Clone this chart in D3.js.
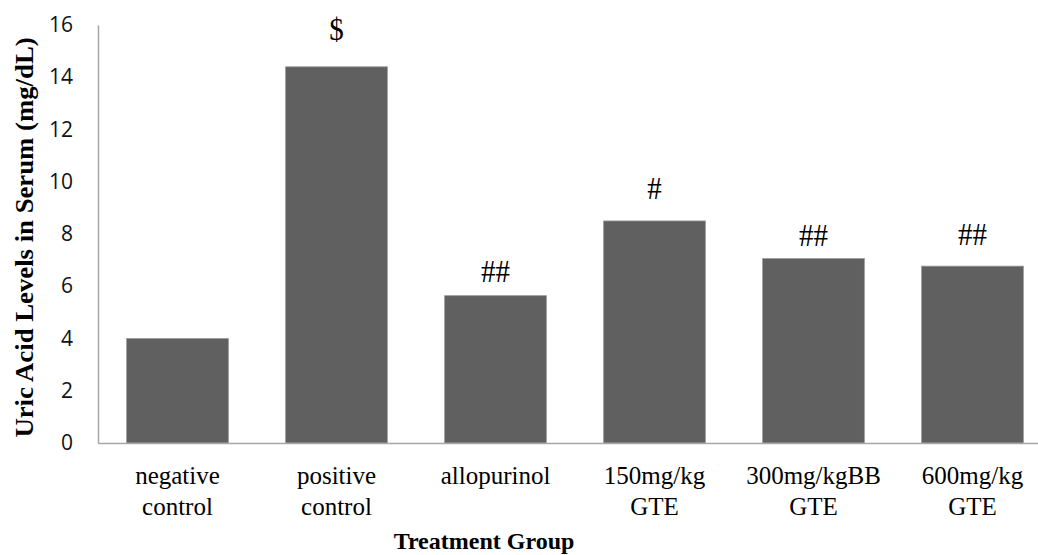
<!DOCTYPE html>
<html><head><meta charset="utf-8">
<script src="https://cdn.jsdelivr.net/npm/d3@7/dist/d3.min.js"></script>
<style>body{margin:0;background:#fff;} svg{display:block;}</style>
</head><body>
<svg id="chart" width="1038" height="555"></svg>
<script>
const categories = [["negative","control"],["positive","control"],["allopurinol"],["150mg/kg","GTE"],["300mg/kgBB","GTE"],["600mg/kg","GTE"]];
const values = [4.0, 14.4, 5.64, 8.5, 7.06, 6.77];
const marks = ["", "$", "##", "#", "##", "##"];
const markLevels = [null, 15.85, 6.58, 9.76, 7.96, 8.0];
const yTicks = [0,2,4,6,8,10,12,14,16];
const yTitle = "Uric Acid Levels in Serum (mg/dL)";
const xTitle = "Treatment Group";

const SERIF = "'Liberation Serif', 'Times New Roman', serif";
const svg = d3.select("#chart");
const x0 = 98, x1 = 1052, yTop = 25, yBot = 443;
const keys = categories.map((c,i)=>i);
const x = d3.scaleBand().domain(keys).range([x0,x1]).paddingInner(0.36).paddingOuter(0.18);
const y = d3.scaleLinear().domain([0,16]).range([yBot,yTop]);

// bars
svg.selectAll("rect.bar").data(values).join("rect")
  .attr("class","bar")
  .attr("x",(d,i)=>x(i)).attr("width",x.bandwidth())
  .attr("y",d=>y(d)).attr("height",d=>y(0)-y(d))
  .attr("fill","#606060").attr("stroke","#9a9a9a").attr("stroke-width",0.8);

// y axis
const ya = d3.axisLeft(y).tickValues(yTicks).tickSize(0).tickPadding(25);
const gy = svg.append("g").attr("transform",`translate(${x0},0)`).call(ya);
gy.select(".domain").attr("stroke","#a6a6a6").attr("stroke-width",1.5);
gy.selectAll("text").attr("font-family","'Open Sans', sans-serif").attr("font-size",21).attr("fill","#111");

// x axis
const xa = d3.axisBottom(x).tickSize(0).tickFormat(()=> "");
const gx = svg.append("g").attr("transform",`translate(0,${yBot})`).call(xa);
gx.select(".domain").attr("stroke","#a6a6a6").attr("stroke-width",1.5);

// category labels
categories.forEach((lines,i)=>{
  const cx = x(i)+x.bandwidth()/2;
  lines.forEach((l,j)=>{
    svg.append("text")
      .attr("x", cx).attr("y", 483.5 + j*31)
      .attr("text-anchor","middle")
      .attr("font-family",SERIF)
      .attr("font-size",25).attr("fill","#000")
      .text(l);
  });
});

// significance marks
svg.selectAll("text.mark").data(marks).join("text")
  .attr("class","mark")
  .attr("transform",(d,i)=>`translate(${x(i)+x.bandwidth()/2},${markLevels[i]==null ? 0 : y(markLevels[i]) + 11}) scale(1,1.1)`)
  .attr("text-anchor","middle")
  .attr("font-family",SERIF)
  .attr("font-size",29).attr("fill","#000")
  .text(d=>d);

// axis titles
svg.append("text")
  .attr("transform","translate(33,237.5) rotate(-90) scale(1.07,1)")
  .attr("text-anchor","middle")
  .attr("font-family",SERIF)
  .attr("font-weight","bold").attr("font-size",25).attr("fill","#000")
  .text(yTitle);
svg.append("text")
  .attr("x",484).attr("y",549)
  .attr("text-anchor","middle")
  .attr("font-family",SERIF)
  .attr("font-weight","bold").attr("font-size",24).attr("fill","#000")
  .text(xTitle);
</script>
</body></html>
